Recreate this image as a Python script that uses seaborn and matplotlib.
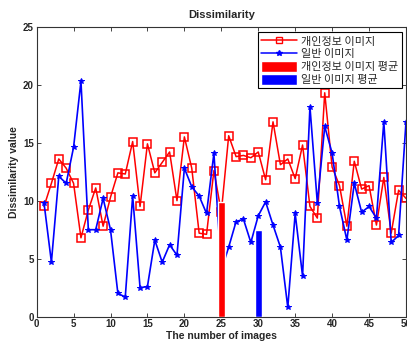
import numpy as np
import pandas as pd
import matplotlib
matplotlib.use("Agg")
import matplotlib.pyplot as plt
from matplotlib.patches import Patch
from matplotlib.lines import Line2D
import seaborn as sns

# values
image_index = list(range(1, 51))
personal_values = [9.5, 11.5, 13.6, 12.8, 11.5, 6.8, 9.2, 11.1, 7.8, 10.3,
                   12.4, 12.3, 15.1, 9.5, 14.9, 12.4, 13.3, 14.2, 10.0, 15.5,
                   12.8, 7.2, 7.1, 12.6, 9.0, 15.6, 13.8, 13.9, 13.7, 14.2,
                   11.8, 16.8, 13.1, 13.6, 11.9, 14.8, 9.5, 8.5, 19.3, 12.9,
                   11.3, 7.8, 13.4, 11.0, 11.3, 7.9, 12.0, 7.2, 10.9, 10.2]
normal_values = [9.8, 4.7, 12.1, 11.5, 14.6, 20.3, 7.5, 7.5, 10.2, 7.5,
                 2.0, 1.7, 10.4, 2.5, 2.6, 6.6, 4.7, 6.2, 5.3, 12.8,
                 11.2, 10.4, 8.9, 14.1, 4.0, 6.0, 8.2, 8.4, 6.4, 8.7,
                 9.9, 7.9, 6.0, 0.8, 8.9, 3.5, 18.1, 9.8, 16.4, 14.1,
                 9.5, 6.6, 11.5, 9.0, 9.5, 8.5, 16.8, 6.4, 7.0, 16.8]
mean_positions = [25, 30]
mean_values = [9.9, 7.5]

series_names = ["개인정보 이미지", "일반 이미지"]
mean_names = ["개인정보 이미지 평균", "일반 이미지 평균"]
series_colors = ["#ff0000", "#0000ff"]

sns.set_style("ticks")
plt.rcParams["font.family"] = ["Liberation Sans", "Noto Sans CJK KR", "DejaVu Sans"]
plt.rcParams["xtick.direction"] = "in"
plt.rcParams["ytick.direction"] = "in"
plt.rcParams["xtick.top"] = True
plt.rcParams["ytick.right"] = True

df = pd.DataFrame({
    "idx": image_index * 2,
    "value": personal_values + normal_values,
    "kind": [series_names[0]] * 50 + [series_names[1]] * 50,
})

fig = plt.figure(figsize=(4.07, 3.42), dpi=100)
ax = fig.add_axes([0.090, 0.074, 0.9075, 0.848])

sns.lineplot(data=df[df["kind"] == series_names[0]], x="idx", y="value",
             color=series_colors[0], marker="s", markersize=5.5,
             markerfacecolor="none", markeredgecolor=series_colors[0],
             markeredgewidth=1.1, linewidth=1.1, ax=ax, zorder=2)
sns.lineplot(data=df[df["kind"] == series_names[1]], x="idx", y="value",
             color=series_colors[1], marker="*", markersize=4,
             markerfacecolor=series_colors[1], markeredgecolor=series_colors[1],
             markeredgewidth=0.7, linewidth=1.2, ax=ax, zorder=2)

# mean bars sit on top of the lines
ax.bar(mean_positions, mean_values, width=1.0, color=series_colors, zorder=3)

ax.set_xlim(0, 50)
ax.set_ylim(0, 25)
ax.set_xticks(range(0, 51, 5))
ax.set_yticks(range(0, 26, 5))
ax.tick_params(labelsize=7, length=3, width=0.6, pad=2)
for lab in ax.get_xticklabels() + ax.get_yticklabels():
    lab.set_fontweight("bold")
for s in ax.spines.values():
    s.set_visible(True)
    s.set_linewidth(0.8)
    s.set_color("#333333")

ax.set_title("Dissimilarity", fontsize=8, fontweight="bold", pad=6)
ax.set_xlabel("The number of images", fontsize=7.5, fontweight="bold", labelpad=1)
ax.set_ylabel("Dissimilarity value", fontsize=7.5, fontweight="bold", labelpad=3)

handles = [
    Line2D([], [], color=series_colors[0], marker="s", markersize=5,
           markerfacecolor="none", linewidth=1.1),
    Line2D([], [], color=series_colors[1], marker="*", markersize=4, linewidth=1.1),
    Patch(facecolor=series_colors[0]),
    Patch(facecolor=series_colors[1]),
]
leg = ax.legend(handles, series_names + mean_names, loc="upper right",
                bbox_to_anchor=(0.989, 0.981), borderaxespad=0,
                handlelength=3.2, handleheight=1.1,
                numpoints=1, fancybox=False, framealpha=1,
                borderpad=0.3, labelspacing=0.15, handletextpad=0.4,
                prop={"family": ["Noto Sans CJK KR"], "size": 8, "weight": "medium"})
leg.get_frame().set_edgecolor("black")
leg.get_frame().set_linewidth(0.8)

fig.savefig("out.png", dpi=100)
